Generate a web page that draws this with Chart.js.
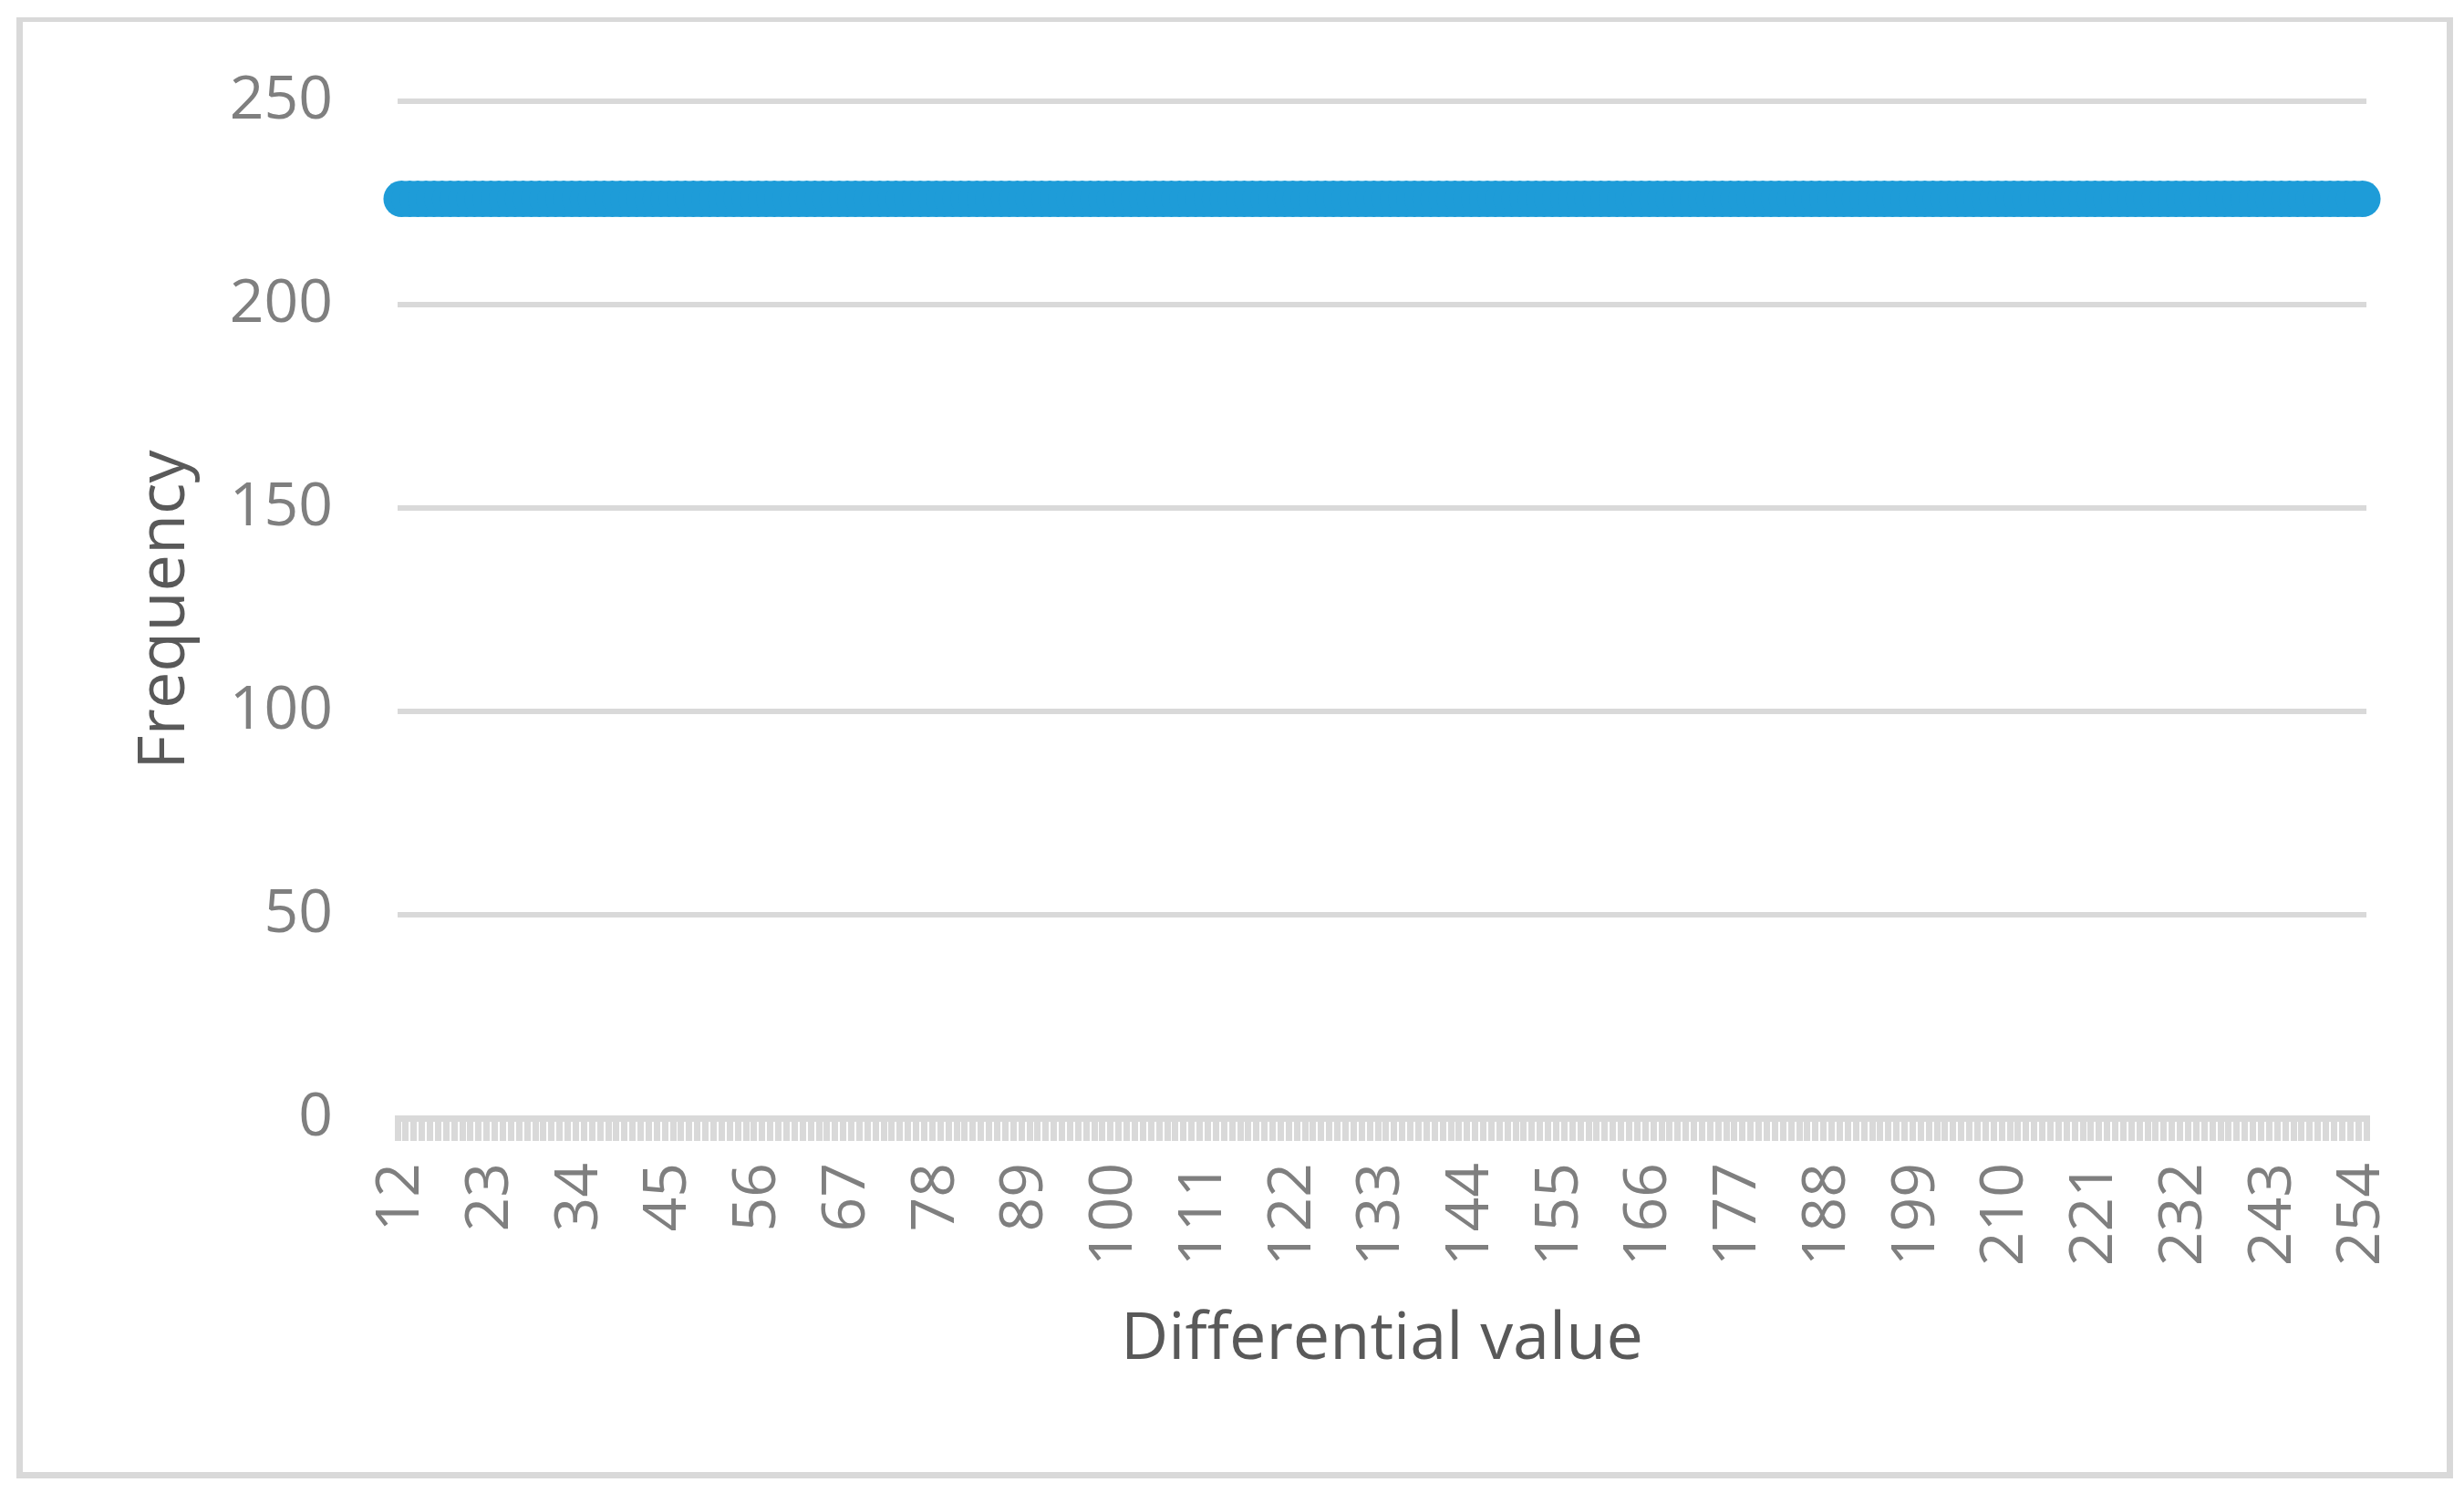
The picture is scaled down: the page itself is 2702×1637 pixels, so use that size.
<!DOCTYPE html>
<html>
<head>
<meta charset="utf-8">
<script src="https://cdn.jsdelivr.net/npm/chart.js@4.4.1/dist/chart.umd.min.js"></script>
<style>
  html, body { margin: 0; padding: 0; background: #fff; }
  #wrap { position: relative; width: 2702px; height: 1637px; }
  #frame {
    position: absolute; left: 18px; top: 19px; width: 2672px; height: 1602px;
    box-sizing: border-box; border: 7px solid #d9d9d9; border-top-width: 5px;
  }
  #plot { position: absolute; left: 0; top: 0; }
</style>
</head>
<body>
<div id="wrap">
  <div id="frame"></div>
  <canvas id="plot" width="2702" height="1637"></canvas>
</div>
<script>
// --- Data ---
const categories = [
  12, 13, 14, 15, 16, 17, 18, 19, 20, 21, 22, 23, 24, 25, 26, 27, 28, 29, 30, 31,
  32, 33, 34, 35, 36, 37, 38, 39, 40, 41, 42, 43, 44, 45, 46, 47, 48, 49, 50, 51,
  52, 53, 54, 55, 56, 57, 58, 59, 60, 61, 62, 63, 64, 65, 66, 67, 68, 69, 70, 71,
  72, 73, 74, 75, 76, 77, 78, 79, 80, 81, 82, 83, 84, 85, 86, 87, 88, 89, 90, 91,
  92, 93, 94, 95, 96, 97, 98, 99, 100, 101, 102, 103, 104, 105, 106, 107, 108, 109, 110, 111,
  112, 113, 114, 115, 116, 117, 118, 119, 120, 121, 122, 123, 124, 125, 126, 127, 128, 129, 130, 131,
  132, 133, 134, 135, 136, 137, 138, 139, 140, 141, 142, 143, 144, 145, 146, 147, 148, 149, 150, 151,
  152, 153, 154, 155, 156, 157, 158, 159, 160, 161, 162, 163, 164, 165, 166, 167, 168, 169, 170, 171,
  172, 173, 174, 175, 176, 177, 178, 179, 180, 181, 182, 183, 184, 185, 186, 187, 188, 189, 190, 191,
  192, 193, 194, 195, 196, 197, 198, 199, 200, 201, 202, 203, 204, 205, 206, 207, 208, 209, 210, 211,
  212, 213, 214, 215, 216, 217, 218, 219, 220, 221, 222, 223, 224, 225, 226, 227, 228, 229, 230, 231,
  232, 233, 234, 235, 236, 237, 238, 239, 240, 241, 242, 243, 244, 245, 246, 247, 248, 249, 250, 251,
  252, 253, 254
];

const frequency = [
  226, 226, 226, 226, 226, 226, 226, 226, 226, 226, 226, 226, 226, 226, 226, 226, 226, 226, 226, 226,
  226, 226, 226, 226, 226, 226, 226, 226, 226, 226, 226, 226, 226, 226, 226, 226, 226, 226, 226, 226,
  226, 226, 226, 226, 226, 226, 226, 226, 226, 226, 226, 226, 226, 226, 226, 226, 226, 226, 226, 226,
  226, 226, 226, 226, 226, 226, 226, 226, 226, 226, 226, 226, 226, 226, 226, 226, 226, 226, 226, 226,
  226, 226, 226, 226, 226, 226, 226, 226, 226, 226, 226, 226, 226, 226, 226, 226, 226, 226, 226, 226,
  226, 226, 226, 226, 226, 226, 226, 226, 226, 226, 226, 226, 226, 226, 226, 226, 226, 226, 226, 226,
  226, 226, 226, 226, 226, 226, 226, 226, 226, 226, 226, 226, 226, 226, 226, 226, 226, 226, 226, 226,
  226, 226, 226, 226, 226, 226, 226, 226, 226, 226, 226, 226, 226, 226, 226, 226, 226, 226, 226, 226,
  226, 226, 226, 226, 226, 226, 226, 226, 226, 226, 226, 226, 226, 226, 226, 226, 226, 226, 226, 226,
  226, 226, 226, 226, 226, 226, 226, 226, 226, 226, 226, 226, 226, 226, 226, 226, 226, 226, 226, 226,
  226, 226, 226, 226, 226, 226, 226, 226, 226, 226, 226, 226, 226, 226, 226, 226, 226, 226, 226, 226,
  226, 226, 226, 226, 226, 226, 226, 226, 226, 226, 226, 226, 226, 226, 226, 226, 226, 226, 226, 226,
  226, 226, 226
];

const xLabelEvery = 11;
const yMin = 0;
const yMax = 250;
const yStep = 50;

const FONT = "'Open Sans', 'Noto Sans', sans-serif";
const GRID = "#d9d9d9";

new Chart(document.getElementById("plot").getContext("2d"), {
  type: "line",
  data: {
    labels: categories,
    datasets: [{
      label: "Frequency",
      data: frequency,
      showLine: false,
      pointRadius: 20,
      pointHoverRadius: 20,
      pointBorderWidth: 0,
      pointBackgroundColor: "#1e9cd8",
      borderColor: "#1e9cd8"
    }]
  },
  options: {
    responsive: false,
    animation: false,
    layout: { padding: { left: 25, top: 111, right: 107, bottom: 0 } },
    plugins: { legend: { display: false }, tooltip: { enabled: false } },
    scales: {
      x: {
        type: "category",
        offset: true,
        afterFit: s => { s.height = 411; },
        grid: {
          offset: true,
          drawOnChartArea: false,
          color: GRID,
          lineWidth: 7,
          tickLength: 25
        },
        border: { display: true, color: GRID, width: 7 },
        ticks: {
          autoSkip: false,
          minRotation: 90,
          maxRotation: 90,
          padding: 24,
          color: "#7f7f7f",
          font: { size: 66, family: FONT },
          callback: function (val, i) {
            return i % xLabelEvery === 0 ? String(categories[i]) : "";
          }
        },
        title: {
          display: true,
          text: "Differential value",
          color: "#595959",
          font: { size: 72, family: FONT },
          padding: { top: 0, bottom: 124 }
        }
      },
      y: {
        min: yMin,
        max: yMax,
        afterFit: s => { s.width = 411; },
        grid: { color: GRID, lineWidth: 6, drawTicks: false },
        border: { display: false },
        ticks: {
          stepSize: yStep,
          padding: 71,
          color: "#7f7f7f",
          font: { size: 66, family: FONT }
        },
        title: {
          display: true,
          text: "Frequency",
          color: "#595959",
          font: { size: 72, family: FONT },
          padding: { top: 113, bottom: 0 }
        }
      }
    }
  }
});
</script>
</body>
</html>
